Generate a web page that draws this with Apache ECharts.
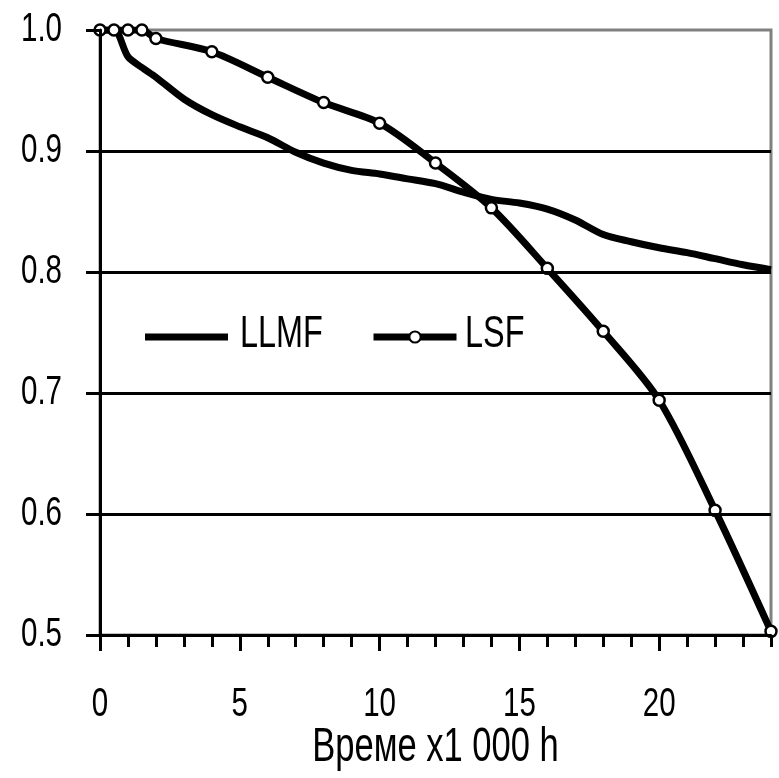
<!DOCTYPE html>
<html>
<head>
<meta charset="utf-8">
<script src="https://cdn.jsdelivr.net/npm/echarts@6/dist/echarts.min.js"></script>
<style>
  html, body { margin: 0; padding: 0; background: #fff; }
  #chart { width: 779px; height: 778px; }
</style>
</head>
<body>
<div id="chart"></div>
<script>
// Time in thousands of hours
const llmfTime = [0, 0.5, 1, 1.5, 2, 3, 4, 5, 6, 7, 8, 9, 10, 11, 12, 13, 14, 15, 16, 17, 18, 19, 20, 21, 22, 23, 24];
// Lamp lumen maintenance factor
const llmfValues = [1.0, 1.0, 0.978, 0.969, 0.961, 0.943, 0.930, 0.920, 0.911, 0.899, 0.890, 0.884, 0.881, 0.877, 0.873, 0.866, 0.860, 0.857, 0.852, 0.843, 0.831, 0.825, 0.820, 0.816, 0.811, 0.806, 0.802];

const lsfTime = [0, 0.5, 1, 1.5, 2, 4, 6, 8, 10, 12, 14, 16, 18, 20, 22, 24];
// Lamp survival factor
const lsfValues = [1.0, 1.0, 1.0, 1.0, 0.993, 0.982, 0.961, 0.940, 0.923, 0.890, 0.853, 0.803, 0.751, 0.694, 0.603, 0.503];

const xLabelValues = [0, 5, 10, 15, 20];
const yLabelValues = [0.5, 0.6, 0.7, 0.8, 0.9, 1.0];
const seriesNames = ['LLMF', 'LSF'];
const xAxisTitle = 'Време x1 000 h';

// Narrow sans look: regular Liberation Sans squeezed horizontally
const FONT = "'Liberation Sans', Arial, sans-serif";
const NARROW = 0.72;

const pairs = (xs, ys) => xs.map((x, i) => [x, ys[i]]);

const chart = echarts.init(document.getElementById('chart'), null, { renderer: 'canvas' });

const legendBase = {
  top: 325,
  itemWidth: 83,
  itemHeight: 14,
  formatter: () => '',
  textStyle: { fontSize: 1 },
  lineStyle: { width: 7 }
};

chart.setOption({
  animation: false,
  backgroundColor: '#ffffff',
  grid: {
    left: 100, right: 8, top: 30, bottom: 143,
    show: true,
    borderColor: '#808080',
    borderWidth: 3,
    backgroundColor: 'transparent'
  },
  legend: [
    Object.assign({}, legendBase, {
      left: 140,
      data: [{ name: seriesNames[0], icon: 'path://M0,0H83V7H0Z' }]
    }),
    Object.assign({}, legendBase, {
      left: 365,
      data: [seriesNames[1]]
    })
  ],
  xAxis: [
    {
      type: 'value',
      min: 0, max: 24, interval: 1,
      position: 'bottom',
      axisLine: { show: true, onZero: false, lineStyle: { color: '#000', width: 3 } },
      axisTick: { show: true, length: 12, lineStyle: { color: '#000', width: 3 } },
      axisLabel: { show: false },
      splitLine: { show: false },
      z: 5
    },
    {
      type: 'value',
      min: 0, max: 24,
      position: 'bottom',
      offset: 0,
      axisLine: { show: false, onZero: false },
      axisTick: { show: true, customValues: xLabelValues, length: 16, lineStyle: { color: '#000', width: 3 } },
      axisLabel: { show: false },
      splitLine: { show: false }
    }
  ],
  yAxis: {
    type: 'value',
    min: 0.5, max: 1.0, interval: 0.1,
    axisLine: { show: true, onZero: false, lineStyle: { color: '#000', width: 3 } },
    axisTick: { show: true, length: 14, lineStyle: { color: '#000', width: 3 } },
    axisLabel: { show: false },
    splitLine: {
      show: true,
      showMinLine: false,
      showMaxLine: false,
      lineStyle: { color: '#000', width: 3 }
    },
    z: 5
  },
  series: [
    {
      name: seriesNames[0],
      type: 'line',
      data: pairs(llmfTime, llmfValues),
      smooth: 0.3,
      showSymbol: false,
      symbol: 'none',
      symbolKeepAspect: true,
      lineStyle: { color: '#000', width: 7 },
      itemStyle: { color: '#000' },
      z: 3
    },
    {
      name: seriesNames[1],
      type: 'line',
      data: pairs(lsfTime, lsfValues),
      smooth: 0.3,
      symbol: 'circle',
      symbolSize: 11,
      lineStyle: { color: '#000', width: 7 },
      itemStyle: { color: '#fff', borderColor: '#000', borderWidth: 2.5 },
      z: 4
    }
  ]
});

// Axis labels, axis title and legend names, set in a condensed face
const xPix = v => chart.convertToPixel({ xAxisIndex: 0 }, v);
const yPix = v => chart.convertToPixel({ yAxisIndex: 0 }, v);
const axisLeft = xPix(0);
const axisBottom = yPix(0.5);

function narrowText(text, x, y, size, align) {
  return {
    type: 'text',
    x: x, y: y,
    scaleX: NARROW,
    silent: true,
    z: 10,
    style: {
      text: text,
      fontFamily: FONT,
      fontSize: size,
      fill: '#000',
      align: align,
      verticalAlign: 'middle'
    }
  };
}

const labels = [];
yLabelValues.forEach(v => labels.push(narrowText(v.toFixed(1), axisLeft - 38, yPix(v), 41, 'right')));
xLabelValues.forEach(v => labels.push(narrowText(String(v), xPix(v), axisBottom + 70, 41, 'center')));
labels.push(narrowText(xAxisTitle, (xPix(0) + xPix(24)) / 2, axisBottom + 113, 48, 'center'));
labels.push(narrowText(seriesNames[0], 240, 335, 45, 'left'));
labels.push(narrowText(seriesNames[1], 465, 335, 45, 'left'));

chart.setOption({ graphic: { elements: labels } });
</script>
</body>
</html>
